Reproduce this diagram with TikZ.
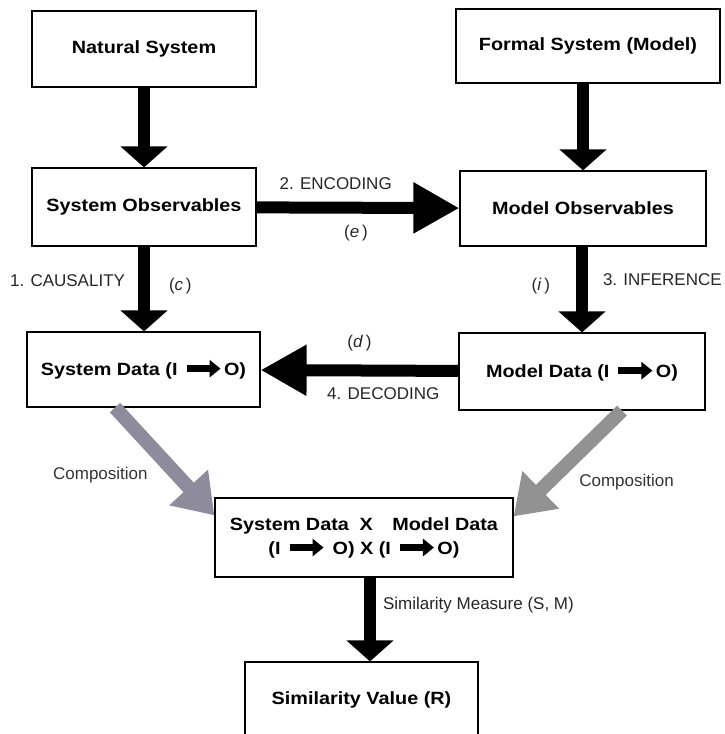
\documentclass[tikz,border=0pt]{standalone}
\usepackage{fontspec}
\setmainfont{Liberation Sans}
\newfontfamily\boxfont{Liberation Sans}[FakeStretch=1.12]
\usepackage{tikz}
\usetikzlibrary{arrows.meta, positioning, calc}
\definecolor{compleft}{RGB}{142,140,156}
\definecolor{compright}{RGB}{146,146,146}
\tikzset{x=1pt, y=-1pt,
  block/.style={draw, line width=1.2pt, fill=white, align=center, inner sep=2pt,
    font=\boxfont\bfseries\fontsize{17.7}{24}\selectfont},
  lbl/.style={font=\fontsize{17}{20}\selectfont, text=black!85, inner sep=2pt},
  downarrow/.style={line width=12pt, -{Triangle[length=21pt,width=46pt]}},
  sidearrow/.style={line width=12pt, -{Triangle[length=46pt,width=48pt]}},
  comparrow/.style={line width=14pt, -{Triangle[length=38pt,width=50pt]}},
}
\newcommand{\ioarrow}{\tikz[baseline=-0.7ex]\draw[line width=7pt,-{Triangle[length=11pt,width=17pt]}] (0pt,0pt) -- (34pt,0pt);}

\begin{document}
\begin{tikzpicture}
    \useasboundingbox (0,0) rectangle (724,734);

    \node[block, minimum width=224pt, minimum height=76pt] (ns) at (144,49) {Natural System};
    \node[block, minimum width=264pt, minimum height=74pt] (fs) at (588,46) {Formal System (Model)};
    \node[block, minimum width=224pt, minimum height=78pt] (so) at (144,207) {System Observables};
    \node[block, minimum width=246pt, minimum height=75pt] (mo) at (583,208.5) {Model Observables};
    \node[block, minimum width=233pt, minimum height=75pt] (sd) at (143.5,369.5) {System Data (I \ioarrow O)};
    \node[block, minimum width=246pt, minimum height=77pt] (md) at (582,371.5) {Model Data (I \ioarrow O)};
    \node[block, minimum width=298pt, minimum height=79pt] (comp) at (364,537.5)
        {System Data\hspace{0.6em}X\hspace{1.1em}Model Data\\(I \ioarrow\ O) X (I \ioarrow O)};
    \node[block, minimum width=233pt, minimum height=76pt] (sv) at (361.5,700) {Similarity Value (R)};

    % observation of both systems
    \draw[downarrow] (ns) -- (so);
    \draw[downarrow] (fs.south -| mo) -- (mo);

    % the modelling relation
    \draw[sidearrow] (so) -- (mo)
        node[lbl, pos=.39, above=10pt] (lenc) {2. ENCODING}
        node[lbl, pos=.49, below=9pt] (le) {(\textit{e}\,)};
    \draw[downarrow] (so.south) -- (so.south |- sd.north)
        node[lbl, pos=.4, left=11pt] (lcaus) {1. CAUSALITY}
        node[lbl, pos=.47, right=17pt] (lc) {(\textit{c}\,)};
    \draw[downarrow] (mo.south -| md) -- (md.north)
        node[lbl, pos=.46, left=24pt] (li) {(\textit{i}\,)}
        node[lbl, pos=.38, right=13pt] (linf) {3. INFERENCE};
    \draw[sidearrow] (md) -- (sd)
        node[lbl, pos=.5, above=11pt] (ld) {(\textit{d}\,)}
        node[lbl, pos=.38, below=9pt] (ldec) {4. DECODING};

    % composition
    \draw[comparrow, compleft] ([xshift=-28.5pt]sd.south) -- ([yshift=-18pt]comp.north west)
        node[lbl, text=black!80, pos=.63, left=21pt] (lcompl) {Composition};
    \draw[comparrow, compright] ([xshift=40pt]md.south) -- ([yshift=-19pt]comp.north east)
        node[lbl, text=black!80, pos=.68, right=22pt] (lcompr) {Composition};

    \draw[downarrow] ([xshift=6pt]comp.south) -- ([xshift=6pt]comp.south |- sv.north)
        node[lbl, pos=.33, right=5pt] (lsim) {Similarity Measure (S, M)};
\end{tikzpicture}
\end{document}
